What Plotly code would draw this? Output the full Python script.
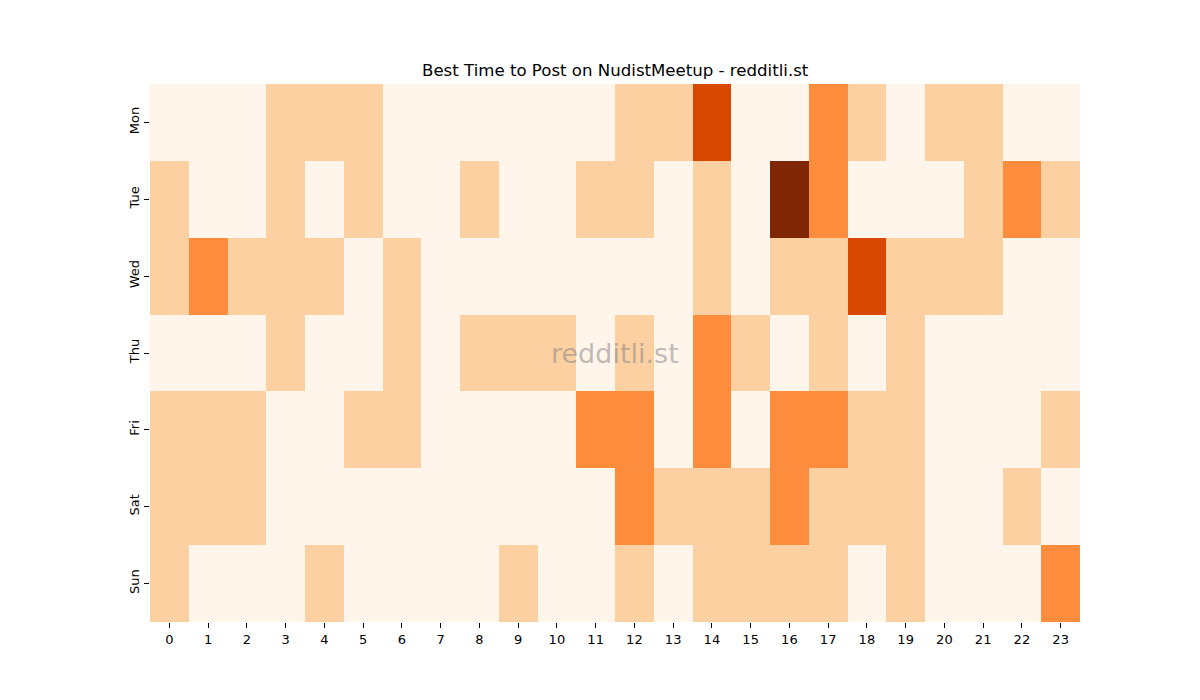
import plotly.graph_objects as go

days = ["Mon", "Tue", "Wed", "Thu", "Fri", "Sat", "Sun"]
hours = [str(h) for h in range(24)]

# activity level per day/hour (0-4)
mon = [0, 0, 0, 1, 1, 1, 0, 0, 0, 0, 0, 0, 1, 1, 3, 0, 0, 2, 1, 0, 1, 1, 0, 0]
tue = [1, 0, 0, 1, 0, 1, 0, 0, 1, 0, 0, 1, 1, 0, 1, 0, 4, 2, 0, 0, 0, 1, 2, 1]
wed = [1, 2, 1, 1, 1, 0, 1, 0, 0, 0, 0, 0, 0, 0, 1, 0, 1, 1, 3, 1, 1, 1, 0, 0]
thu = [0, 0, 0, 1, 0, 0, 1, 0, 1, 1, 1, 0, 1, 0, 2, 1, 0, 1, 0, 1, 0, 0, 0, 0]
fri = [1, 1, 1, 0, 0, 1, 1, 0, 0, 0, 0, 2, 2, 0, 2, 0, 2, 2, 1, 1, 0, 0, 0, 1]
sat = [1, 1, 1, 0, 0, 0, 0, 0, 0, 0, 0, 0, 2, 1, 1, 1, 2, 1, 1, 1, 0, 0, 1, 0]
sun = [1, 0, 0, 0, 1, 0, 0, 0, 0, 1, 0, 0, 1, 0, 1, 1, 1, 1, 0, 1, 0, 0, 0, 2]

z = [mon, tue, wed, thu, fri, sat, sun]

# matplotlib "Oranges"
oranges = [[0.0, "#fff5eb"], [0.25, "#fdd0a2"], [0.5, "#fd8d3c"],
           [0.75, "#d94801"], [1.0, "#7f2704"]]

fig = go.Figure(go.Heatmap(
    z=z, x=hours, y=days,
    colorscale=oranges, zmin=0, zmax=4,
    showscale=False, xgap=0, ygap=0,
))

fig.add_annotation(text="redditli.st", x=0.5, y=0.5, xref="paper", yref="paper",
                   showarrow=False, font=dict(size=27, color="rgba(128,128,128,0.5)"))

fig.update_layout(
    width=1200, height=700,
    margin=dict(l=142, r=128, t=76, b=86),
    paper_bgcolor="white", plot_bgcolor="white",
    font=dict(family="DejaVu Sans", size=13, color="black"),
    title=dict(text="Best Time to Post on NudistMeetup - redditli.st",
               x=0.506, xanchor="center", y=0.903, yanchor="bottom",
               font=dict(size=16.6)),
)
fig.update_xaxes(ticks="outside", ticklen=5, tickcolor="black", showgrid=False,
                 zeroline=False, tickangle=0)
fig.update_yaxes(ticks="outside", ticklen=5, tickcolor="black", showgrid=False,
                 zeroline=False, autorange="reversed", tickangle=-90)

fig.write_html("out.html")
